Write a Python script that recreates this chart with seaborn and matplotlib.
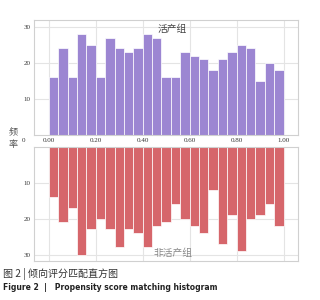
import numpy as np
import matplotlib
matplotlib.use('Agg')
import matplotlib.pyplot as plt
import seaborn as sns

# bin edges of the propensity score histogram (25 bins on 0..1)
bin_edges = [i * 0.04 for i in range(26)]
bin_centers = [round(e + 0.02, 2) for e in bin_edges[:-1]]

live_counts = [16, 24, 16, 28, 25, 16, 27, 24, 23, 24, 28, 27, 16,
               16, 23, 22, 21, 18, 21, 23, 25, 24, 15, 20, 18]
nonlive_counts = [14, 21, 17, 30, 23, 20, 23, 28, 23, 24, 28, 22, 21,
                  16, 20, 22, 24, 12, 27, 19, 29, 20, 19, 16, 22]

x_ticks = [0.0, 0.2, 0.4, 0.6, 0.8, 1.0]
x_ticklabels = ['0.00', '0.20', '0.40', '0.60', '0.80', '1.00']
y_ticks = [10, 20, 30]

sns.set_style('whitegrid', {'grid.color': '#e4e4e4', 'axes.edgecolor': '#d0d0d0'})
plt.rcParams['font.family'] = ['Liberation Serif', 'Noto Sans CJK SC', 'DejaVu Sans']

fig = plt.figure(figsize=(3.2, 3.0), dpi=100)
ax1 = fig.add_axes([0.105, 0.55, 0.825, 0.385])
ax2 = fig.add_axes([0.105, 0.13, 0.825, 0.38])

sns.histplot(x=bin_centers, weights=live_counts, bins=bin_edges, ax=ax1,
             color='#9c86d2', alpha=1, edgecolor='white', linewidth=0.5)
sns.histplot(x=bin_centers, weights=nonlive_counts, bins=bin_edges, ax=ax2,
             color='#d6666b', alpha=1, edgecolor='white', linewidth=0.5)

for ax in (ax1, ax2):
    ax.set_xlim(-0.065, 1.06)
    ax.set_xticks(x_ticks)
    ax.set_yticks(y_ticks)
    ax.set_ylabel('')
    ax.tick_params(length=0, labelsize=5, colors='#333333', pad=2)
    for s in ax.spines.values():
        s.set_color('#d0d0d0')
        s.set_linewidth(0.8)

ax1.set_ylim(0, 32)
ax1.set_xticklabels(x_ticklabels)
ax2.set_ylim(31.8, 0)
ax2.set_xticklabels([])

ax1.text(0.525, 29.5, '活产组', ha='center', va='center', fontsize=7,
         color='#444444', family=['Noto Sans CJK SC'])
ax2.text(0.53, 29.5, '非活产组', ha='center', va='center', fontsize=7,
         color='#888888', family=['Noto Sans CJK SC'])

fig.text(0.04, 0.54, '频\n率', ha='center', va='center', fontsize=6.5,
         color='#555555', family=['Noto Sans CJK SC'], linespacing=1.6)
fig.text(0.072, 0.53, '0', ha='center', va='center', fontsize=5, color='#333333')

fig.text(0.01, 0.087, '图 2 | 倾向评分匹配直方图', ha='left', va='center',
         fontsize=7.2, color='#333333', family=['Noto Sans CJK SC'])
fig.text(0.01, 0.043, 'Figure 2  |   Propensity score matching histogram', ha='left',
         va='center', fontsize=5.5, fontweight='bold', color='#222222',
         family=['DejaVu Sans'])

fig.savefig('out.png', dpi=100)
